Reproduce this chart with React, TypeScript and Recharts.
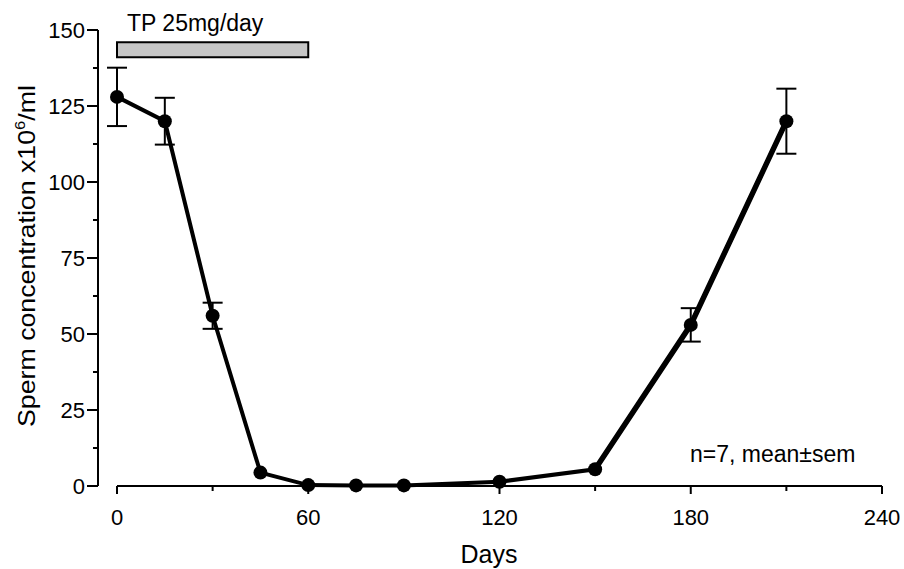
import React from "react";
import {
  Customized,
  ErrorBar,
  Line,
  LineChart,
  ReferenceArea,
  ReferenceLine,
  XAxis,
  YAxis,
} from "recharts";

// Sperm concentration during and after TP 25mg/day (days 0-60)
const days = [0, 15, 30, 45, 60, 75, 90, 120, 150, 180, 210];
const conc = [128, 120, 56, 4.4, 0.3, 0.2, 0.2, 1.4, 5.5, 53, 120];
const sem = [9.6, 7.7, 4.3, 0, 0, 0, 0, 0, 0, 5.5, 10.7];
// recovery segment is drawn with a heavier stroke in the original
const recoveryFrom = 150;

const xTicks = [0, 30, 60, 90, 120, 150, 180, 210, 240];
const yTicks = [0, 12.5, 25, 37.5, 50, 62.5, 75, 87.5, 100, 112.5, 125, 137.5, 150];
const treatment = { from: 0, to: 60, low: 141, high: 146, label: "TP 25mg/day" };
const note = "n=7, mean±sem";

const FONT = "'Liberation Sans', Arial, Helvetica, sans-serif";

const rows = days.map((d, i) => ({
  day: d,
  conc: conc[i],
  sem: sem[i],
  rec: d >= recoveryFrom ? conc[i] : null,
}));

function YTick(props: any) {
  const { x, y, payload } = props;
  const major = payload.value % 25 === 0;
  return (
    <g>
      <line x1={x - (major ? 11 : 5)} x2={x} y1={y} y2={y} stroke="#000" strokeWidth={2} />
      {major && (
        <text x={x - 13} y={y + 8} textAnchor="end" fontSize={22} fontFamily={FONT} fill="#000">
          {payload.value}
        </text>
      )}
    </g>
  );
}

function XTick(props: any) {
  const { x, y, payload } = props;
  const major = payload.value % 60 === 0;
  return (
    <g>
      <line x1={x} x2={x} y1={y} y2={y + (major ? 8 : 5)} stroke="#000" strokeWidth={2} />
      {major && (
        <text x={x} y={y + 39} textAnchor="middle" fontSize={22} fontFamily={FONT} fill="#000">
          {payload.value}
        </text>
      )}
    </g>
  );
}

export default function App() {
  return (
    <div style={{ position: "absolute", left: 0, top: 0, background: "#fff" }}>
      <LineChart
        width={904}
        height={569}
        data={rows}
        margin={{ top: 30, right: 22, bottom: 23, left: 38 }}
      >
        <XAxis
          dataKey="day"
          type="number"
          domain={[0, 240]}
          ticks={xTicks}
          interval={0}
          padding={{ left: 19, right: 0 }}
          axisLine={false}
          tickLine={false}
          tickSize={0}
          tickMargin={0}
          height={60}
          tick={<XTick />}
          label={{
            content: (p: any) => (
              <text
                x={p.viewBox.x + p.viewBox.width / 2 - 1}
                y={p.viewBox.y + 77}
                textAnchor="middle"
                fontSize={25}
                fontFamily={FONT}
                fill="#000"
              >
                Days
              </text>
            ),
          }}
        />
        <YAxis
          type="number"
          domain={[0, 150]}
          ticks={yTicks}
          interval={0}
          width={60}
          axisLine={{ stroke: "#000", strokeWidth: 2 }}
          tickLine={false}
          tickSize={0}
          tickMargin={0}
          tick={<YTick />}
          label={{
            content: (p: any) => {
              const cx = p.viewBox.x - 3;
              const cy = 256;
              return (
                <text
                  x={cx}
                  y={cy}
                  transform={`rotate(-90, ${cx}, ${cy})`}
                  textAnchor="middle"
                  fontSize={24}
                  fontFamily={FONT}
                  fill="#000"
                  textLength={342}
                  lengthAdjust="spacingAndGlyphs"
                >
                  Sperm concentration x10
                  <tspan fontSize={15} dy={-10}>6</tspan>
                  <tspan dy={10}>/ml</tspan>
                </text>
              );
            },
          }}
        />
        <ReferenceLine
          segment={[
            { x: 0, y: 0 },
            { x: 240, y: 0 },
          ]}
          stroke="#000"
          strokeWidth={2}
        />
        <ReferenceArea
          x1={treatment.from}
          x2={treatment.to}
          y1={treatment.low}
          y2={treatment.high}
          fill="#c6c6c6"
          fillOpacity={1}
          stroke="#000"
          strokeWidth={2}
          label={{
            content: (p: any) => (
              <text
                x={p.viewBox.x + 10}
                y={p.viewBox.y - 11}
                fontSize={23}
                fontFamily={FONT}
                fill="#000"
              >
                {treatment.label}
              </text>
            ),
          }}
        />
        <Line
          dataKey="rec"
          stroke="#000"
          strokeWidth={5.5}
          dot={false}
          activeDot={false}
          connectNulls={false}
          isAnimationActive={false}
        />
        <Line
          dataKey="conc"
          stroke="#000"
          strokeWidth={4}
          dot={{ r: 7, fill: "#000", stroke: "none" }}
          activeDot={false}
          isAnimationActive={false}
        >
          <ErrorBar dataKey="sem" width={10} strokeWidth={2} stroke="#000" direction="y" />
        </Line>
        <Customized
          component={() => (
            <text x={690} y={462} fontSize={23} fontFamily={FONT} fill="#000">
              {note}
            </text>
          )}
        />
      </LineChart>
    </div>
  );
}
